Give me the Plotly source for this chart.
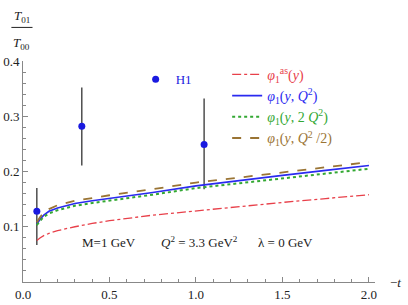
import plotly.graph_objects as go

# ---- data ----
t_curve = [0.08, 0.09, 0.1, 0.12, 0.15, 0.2, 0.25, 0.3, 0.4, 0.5, 0.75, 1.0, 1.25, 1.5, 1.75, 2.0]
phi_as = [0.075, 0.078, 0.080, 0.084, 0.088, 0.093, 0.097, 0.100, 0.106, 0.111, 0.121, 0.129, 0.137, 0.144, 0.151, 0.158]
phi_Q2 = [0.105, 0.110, 0.114, 0.121, 0.128, 0.134, 0.138, 0.142, 0.147, 0.151, 0.162, 0.174, 0.184, 0.193, 0.202, 0.211]
phi_2Q2 = [0.103, 0.108, 0.111, 0.118, 0.124, 0.130, 0.134, 0.138, 0.143, 0.147, 0.158, 0.170, 0.179, 0.188, 0.197, 0.205]
phi_Q2half = [0.108, 0.113, 0.118, 0.125, 0.132, 0.139, 0.143, 0.147, 0.152, 0.157, 0.168, 0.180, 0.189, 0.198, 0.208, 0.217]

h1_t = [0.08, 0.34, 1.047]
h1_val = [0.128, 0.282, 0.249]
h1_err_plus = [0.042, 0.070, 0.083]
h1_err_minus = [0.061, 0.071, 0.081]

x_ticks = [0.0, 0.5, 1.0, 1.5, 2.0]
y_ticks = [0.1, 0.2, 0.3, 0.4]

RED = "#e8404a"
BLUE = "#2a2af0"
GREEN = "#33a833"
BROWN = "#9a7434"
SERIF = "Liberation Serif"

fig = go.Figure()

fig.add_trace(go.Scatter(
    x=h1_t, y=h1_val, mode="markers",
    marker=dict(color="#1a1ae0", size=7),
    error_y=dict(type="data", array=h1_err_plus, arrayminus=h1_err_minus,
                 color="#333333", thickness=1.3, width=0),
    name='<span style="color:#1a1ae0">H1</span>', legend="legend2"))

fig.add_trace(go.Scatter(
    x=t_curve, y=phi_as, mode="lines", line=dict(color=RED, width=1.3, dash="dashdot"),
    name='<span style="color:%s"><i>φ</i><sub>1</sub><sup>as</sup>(<i>y</i>)</span>' % RED))
fig.add_trace(go.Scatter(
    x=t_curve, y=phi_Q2, mode="lines", line=dict(color=BLUE, width=1.6),
    name='<span style="color:%s"><i>φ</i><sub>1</sub>(<i>y</i>, <i>Q</i><sup>2</sup>)</span>' % BLUE))
fig.add_trace(go.Scatter(
    x=t_curve, y=phi_2Q2, mode="lines", line=dict(color=GREEN, width=2, dash="dot"),
    name='<span style="color:%s"><i>φ</i><sub>1</sub>(<i>y</i>, 2 <i>Q</i><sup>2</sup>)</span>' % GREEN))
fig.add_trace(go.Scatter(
    x=t_curve, y=phi_Q2half, mode="lines", line=dict(color=BROWN, width=1.8, dash="dash"),
    name='<span style="color:%s"><i>φ</i><sub>1</sub>(<i>y</i>, <i>Q</i><sup>2</sup> /2)</span>' % BROWN))

axis_common = dict(
    showgrid=False, zeroline=False, showline=True, linecolor="#888888", linewidth=1,
    ticks="inside", ticklen=5, tickcolor="#888888", tickwidth=1, automargin=False,
    tickfont=dict(family=SERIF, size=13, color="#222222"),
)

fig.update_xaxes(range=[0, 2.035], tickvals=x_ticks, tickformat=".1f",
                 minor=dict(dtick=0.1, tick0=0, ticks="inside", ticklen=3, tickcolor="#888888"),
                 **axis_common)
fig.update_yaxes(range=[0, 0.4], tickvals=y_ticks, tickformat=".1f",
                 minor=dict(dtick=0.02, tick0=0, ticks="inside", ticklen=3, tickcolor="#888888"),
                 **axis_common)

ann_font = dict(family=SERIF, size=13, color="#222222")
fig.add_annotation(x=0.5, y=0.072, text="M=1 GeV", showarrow=False, font=ann_font)
fig.add_annotation(x=1.02, y=0.072, text="<i>Q</i><sup>2</sup> = 3.3 GeV<sup>2</sup>", showarrow=False, font=ann_font)
fig.add_annotation(x=1.52, y=0.072, text="λ = 0 GeV", showarrow=False, font=ann_font)

fig.add_annotation(xref="paper", yref="paper", x=1.057, y=0.0, text="−<i>t</i>",
                   xanchor="center", yanchor="middle", showarrow=False, font=ann_font)
fig.add_annotation(xref="paper", yref="paper", x=-0.003, y=1.20, text="<i>T</i><sub>01</sub>",
                   xanchor="center", yanchor="middle", showarrow=False, font=ann_font)
fig.add_annotation(xref="paper", yref="paper", x=-0.003, y=1.08, text="<i>T</i><sub>00</sub>",
                   xanchor="center", yanchor="middle", showarrow=False, font=ann_font)
fig.add_shape(type="line", xref="paper", yref="paper", x0=-0.033, x1=0.027, y0=1.152, y1=1.152,
              line=dict(color="#222222", width=1))

fig.update_layout(
    width=408, height=305,
    margin=dict(l=23, r=33, t=61, b=23, autoexpand=False),
    paper_bgcolor="white", plot_bgcolor="white",
    legend=dict(x=0.58, y=1.01, xanchor="left", yanchor="top", bgcolor="rgba(0,0,0,0)",
                font=dict(family=SERIF, size=14), tracegroupgap=0, itemwidth=30),
    legend2=dict(x=0.32, y=0.985, xanchor="left", yanchor="top", bgcolor="rgba(0,0,0,0)",
                 font=dict(family=SERIF, size=13)),
)

fig.write_html("out.html", config={"displayModeBar": False},
               post_script="document.body.style.margin='0px';")
